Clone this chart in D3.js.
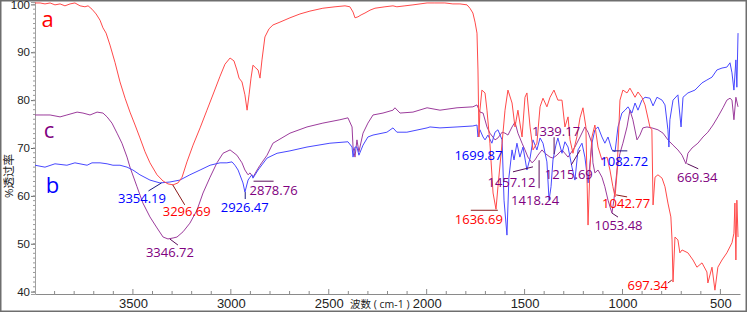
<!DOCTYPE html>
<html>
<head>
<meta charset="utf-8">
<script src="https://cdn.jsdelivr.net/npm/d3@7"></script>
<style>
body { margin: 0; background: #fff; }
svg { display: block; font-family: "Open Sans", "Noto Sans CJK SC", sans-serif; }
</style>
</head>
<body>
<svg id="chart" width="748" height="313"></svg>
<script>
// spectra: [wavenumber cm-1, %T]
const seriesA = [
  [4000,100.3],[3974,100.3],[3949,100.1],[3923,100.3],[3898,99.9],[3872,100.1],[3847,99.7],[3821,100.1],
  [3796,100.3],[3770,99.7],[3745,99.5],[3729,99.7],[3709,99.0],[3688,98.0],[3668,96.7],[3653,95.1],
  [3637,94.0],[3617,91.5],[3591,87.8],[3566,83.8],[3540,80.4],[3515,77.5],[3489,74.8],[3464,72.1],
  [3438,69.2],[3413,66.9],[3377,64.4],[3346,63.1],[3321,62.5],[3295,62.3],[3270,62.7],[3249,63.9],
  [3224,67.1],[3193,70.6],[3157,74.2],[3122,77.9],[3086,81.7],[3055,85.0],[3030,87.5],[3004,88.8],
  [2984,88.2],[2969,86.3],[2958,84.6],[2943,83.8],[2928,81.1],[2917,77.9],[2907,81.1],[2897,84.6],
  [2887,87.3],[2872,86.7],[2861,86.3],[2851,84.6],[2841,88.4],[2826,93.2],[2805,94.9],[2785,95.7],
  [2749,96.3],[2698,97.2],[2647,98.0],[2596,98.6],[2530,99.2],[2468,99.5],[2417,99.7],[2392,99.5],
  [2376,98.4],[2366,97.2],[2351,97.4],[2335,97.8],[2315,98.2],[2289,98.8],[2264,99.2],[2213,99.5],
  [2172,99.7],[2152,99.5],[2111,99.7],[2070,99.9],[2034,100.1],[1998,100.3],[1958,100.3],[1907,100.3],
  [1866,100.1],[1830,100.1],[1794,99.9],[1779,99.2],[1764,98.2],[1753,96.3],[1743,94.0],[1738,86.3],
  [1733,72.3],[1728,77.9],[1718,82.1],[1702,81.5],[1692,77.9],[1677,71.0],[1661,60.6],[1646,57.2],
  [1636,61.9],[1615,71.0],[1600,77.9],[1585,82.1],[1564,79.4],[1549,74.4],[1534,77.9],[1513,72.3],
  [1498,80.6],[1488,81.5],[1472,74.4],[1457,69.6],[1437,71.0],[1421,78.6],[1406,80.4],[1386,78.6],
  [1370,80.6],[1350,82.1],[1330,80.0],[1309,80.0],[1294,74.4],[1278,76.5],[1268,71.7],[1253,68.9],
  [1233,72.3],[1217,76.3],[1202,78.4],[1187,74.4],[1176,53.9],[1166,66.0],[1156,72.3],[1141,74.8],
  [1125,70.2],[1105,67.5],[1079,68.1],[1064,65.4],[1049,61.9],[1038,59.8],[1028,64.8],[1013,80.0],
  [998,82.1],[977,81.5],[962,82.5],[936,80.6],[921,81.7],[901,80.6],[885,79.0],[860,74.4],
  [850,73.8],[844,58.1],[834,63.9],[819,64.4],[798,63.7],[783,61.9],[768,58.5],[753,55.6],
  [747,50.8],[742,42.0],[732,51.4],[717,50.8],[707,48.1],[696,48.7],[666,48.1],[640,46.6],
  [620,45.1],[594,46.0],[569,44.1],[564,41.8],[543,45.1],[528,40.3],[513,45.1],[492,46.6],
  [467,48.1],[441,50.2],[431,52.2],[426,58.5],[421,46.6],[416,59.1],[410,51.4]
];

const seriesB = [
  [4000,66.4],[3949,66.0],[3898,66.7],[3837,66.4],[3796,66.9],[3734,66.4],[3709,66.9],[3668,66.9],
  [3632,66.7],[3602,66.4],[3566,66.4],[3530,66.0],[3500,65.4],[3464,64.4],[3413,63.3],[3362,62.7],
  [3311,62.9],[3260,63.3],[3209,64.4],[3157,65.4],[3106,66.4],[3055,66.9],[3020,66.9],[2994,67.1],
  [2979,66.4],[2963,65.4],[2938,62.7],[2928,60.8],[2912,63.3],[2902,63.9],[2892,64.4],[2887,63.7],
  [2861,65.4],[2815,67.9],[2764,68.9],[2698,69.4],[2611,70.2],[2494,71.0],[2402,71.3],[2381,70.2],
  [2376,68.1],[2366,70.2],[2356,70.2],[2346,68.5],[2325,70.6],[2300,72.3],[2274,72.7],[2203,73.3],
  [2172,74.2],[2152,73.3],[2101,73.3],[1998,74.2],[1983,74.4],[1932,74.2],[1845,74.4],[1764,74.6],
  [1743,74.8],[1738,72.3],[1728,73.8],[1712,72.3],[1702,71.7],[1687,72.7],[1667,71.0],[1651,73.3],
  [1636,73.8],[1615,71.7],[1605,59.1],[1590,51.8],[1580,63.9],[1564,69.6],[1554,67.5],[1539,71.0],
  [1524,68.1],[1508,70.2],[1488,65.4],[1472,67.9],[1457,71.7],[1437,69.6],[1421,72.1],[1406,71.0],
  [1386,67.1],[1375,59.1],[1365,61.9],[1355,67.5],[1340,70.6],[1330,72.1],[1309,68.9],[1294,71.3],
  [1278,70.2],[1258,66.0],[1243,63.3],[1227,69.6],[1207,71.0],[1192,68.1],[1176,62.7],[1156,71.0],
  [1141,73.8],[1125,74.4],[1105,72.3],[1090,71.0],[1074,72.3],[1054,69.6],[1038,69.2],[1023,74.4],
  [1003,77.3],[987,77.9],[972,78.6],[952,77.3],[936,79.4],[921,77.9],[901,80.0],[885,80.6],
  [860,80.4],[844,78.8],[824,80.6],[798,80.0],[783,79.0],[768,73.8],[763,70.2],[758,75.9],
  [742,80.0],[717,81.1],[701,74.4],[691,80.6],[666,81.5],[630,82.1],[594,83.6],[569,84.2],
  [543,84.8],[518,86.3],[492,86.7],[467,86.9],[451,87.8],[441,85.7],[431,82.1],[421,88.4],
  [416,82.7],[410,94.0]
];

const seriesC = [
  [4000,76.9],[3959,76.9],[3923,76.9],[3872,76.5],[3837,76.9],[3785,77.5],[3755,77.3],[3719,76.9],
  [3683,77.5],[3653,77.3],[3632,76.5],[3607,75.2],[3581,73.1],[3556,71.0],[3530,68.1],[3515,66.0],
  [3479,61.9],[3449,58.5],[3413,55.6],[3377,53.3],[3346,51.4],[3321,51.0],[3295,51.2],[3275,51.4],
  [3244,52.5],[3209,54.3],[3173,57.0],[3142,60.6],[3106,63.9],[3071,66.9],[3040,68.9],[3004,69.6],
  [2969,68.5],[2943,66.9],[2928,65.4],[2912,64.4],[2902,64.8],[2887,63.9],[2866,65.4],[2851,66.4],
  [2815,68.5],[2785,71.0],[2698,73.1],[2611,74.4],[2530,75.2],[2443,75.9],[2402,76.3],[2381,74.4],
  [2376,70.2],[2366,68.1],[2356,71.7],[2346,69.2],[2325,73.1],[2300,75.2],[2274,76.9],[2223,77.3],
  [2172,77.9],[2162,78.4],[2136,77.3],[2070,77.5],[1998,78.4],[1932,77.9],[1845,78.4],[1764,78.6],
  [1743,79.0],[1728,77.5],[1712,77.3],[1692,74.4],[1677,73.1],[1651,71.7],[1636,72.1],[1615,73.3],
  [1600,73.1],[1585,72.7],[1564,74.4],[1549,75.4],[1534,73.1],[1513,71.0],[1498,69.6],[1483,68.1],
  [1462,66.9],[1447,67.5],[1432,68.5],[1411,69.6],[1396,68.9],[1370,68.1],[1355,67.9],[1335,68.5],
  [1309,69.6],[1278,68.1],[1243,70.2],[1217,72.3],[1192,74.4],[1176,73.3],[1156,71.0],[1151,66.9],
  [1141,64.8],[1125,65.4],[1105,63.9],[1090,61.9],[1074,59.1],[1054,56.4],[1044,59.1],[1028,65.4],
  [1013,68.9],[998,71.0],[977,74.4],[962,77.9],[947,75.9],[926,71.7],[911,72.7],[896,74.2],
  [875,74.4],[850,74.2],[819,73.8],[793,73.1],[768,71.7],[742,70.6],[717,69.6],[696,68.5],
  [676,66.7],[666,68.9],[645,70.0],[615,71.0],[589,72.3],[564,73.3],[538,74.8],[513,76.5],
  [487,78.4],[467,80.0],[451,80.4],[441,80.0],[431,75.9],[421,80.6],[410,78.6]
];

const seriesNames = ["a", "b", "c"];
const xTickValues = [3500, 3000, 2500, 2000, 1500, 1000, 500];
const yTickValues = [40, 50, 60, 70, 80, 90, 100];

// peak labels: text, series, wavenumber, %T at leader tip
const peakText   = ["3354.19","3296.69","3346.72","2926.47","2878.76","1699.87","1636.69","1457.12",
                    "1418.24","1339.17","1215.69","1082.72","1042.77","1053.48","669.34","697.34"];
const peakSeries = ["b","a","c","b","c","b","a","c","c","c","c","b","a","c","c","a"];
const peakWn     = [3354.19,3296.69,3346.72,2926.47,2878.76,1699.87,1636.69,1457.12,
                    1418.24,1339.17,1215.69,1082.72,1042.77,1053.48,669.34,697.34];
const peakT      = [62.7,62.3,51.4,60.8,63.9,71.7,57.2,66.9,68.7,68.7,69.6,69.4,60.2,56.4,66.7,42.4];

// layout for the labels (pixel offsets from the peak point)
const peakLayout = [
  {lead: [[0,0],[-13,8]], tx: -19.5, ty: 16},
  {lead: [[0,0],[12,20]], tx: 14, ty: 27},
  {lead: [[7,2],[15,8]], tx: 7, ty: 15},
  {lead: [[0,0],[0,7]], tx: -0.5, ty: 15},
  {lead: [[-1,4],[19,4]], tx: 19, ty: 13},
  {lead: null, tx: -7, ty: 16},
  {lead: [[0,1],[-27,1]], tx: -19, ty: 10},
  {lead: [[0,4],[-20,9]], tx: -21.5, ty: 20},
  {lead: [[-1.5,6],[-1.5,34]], tx: -5.5, ty: 46},
  {lead: [[-2,0],[-2,-17]], tx: 0, ty: -23},
  {lead: [[0,0],[-9,15]], tx: -11.5, ty: 25},
  {lead: [[6,0],[21,0]], tx: 18, ty: 11},
  {lead: [[2,0],[13,2]], tx: 12, ty: 9},
  {lead: [[0,0],[6,4]], tx: 6.5, ty: 12},
  {lead: [[0,0],[11,5]], tx: 10, ty: 14},
  {lead: [[-10,0],[-14,3]], tx: -34, ty: 5}
];

const lineColor  = {a: "#ff4a4a", b: "#4848ff", c: "#9c3c9c"};
const textColor  = {a: "#ff0000", b: "#0000ff", c: "#800080"};
const leadColor  = {a: "#8b1a1a", b: "#1a1a80", c: "#5a105a"};

const svg = d3.select("#chart");
const width = +svg.attr("width");
const height = +svg.attr("height");
const margin = {left: 35, right: 8, top: 2, bottom: 19};

const x = d3.scaleLinear().domain([4000, 400]).range([margin.left, width - margin.right]);
const y = d3.scaleLinear().domain([39.5, 100.5]).range([height - margin.bottom, margin.top]);

// outer frame
svg.append("rect")
  .attr("x", 0.75).attr("y", 0.75)
  .attr("width", width - 2.5).attr("height", height - 2.5)
  .attr("fill", "none").attr("stroke", "#6e6e6e").attr("stroke-width", 1.5);

svg.append("clipPath").attr("id", "plot")
  .append("rect")
  .attr("x", margin.left).attr("y", margin.top)
  .attr("width", x.range()[1] - margin.left).attr("height", y.range()[0] - margin.top);

// x axis
const xAxis = d3.axisBottom(x).tickValues(xTickValues).tickSize(0).tickPadding(5).tickFormat(d3.format("d"));
const gx = svg.append("g")
  .attr("transform", `translate(0,${y.range()[0]})`)
  .call(xAxis);
gx.select(".domain").attr("stroke", "#8a8a8a");
gx.selectAll("text").style("font-size", "13px").attr("fill", "#222");

svg.append("g").selectAll("line")
  .data(d3.range(3900, 400, -100))
  .join("line")
  .attr("x1", d => x(d)).attr("x2", d => x(d))
  .attr("y1", y.range()[0]).attr("y2", d => y.range()[0] - (d % 500 === 0 ? 5 : 3))
  .attr("stroke", "#8a8a8a");

// y axis
const yAxis = d3.axisLeft(y).tickValues(yTickValues).tickSize(4).tickPadding(1);
const gy = svg.append("g")
  .attr("transform", `translate(${margin.left},0)`)
  .call(yAxis);
gy.select(".domain").attr("stroke", "#a0a0a0");
gy.selectAll(".tick line").attr("stroke", "#666");
gy.selectAll("text").style("font-size", "11.5px").attr("fill", "#222");

svg.append("g").selectAll("line")
  .data(d3.range(40, 101, 1))
  .join("line")
  .attr("x1", margin.left - 2).attr("x2", margin.left)
  .attr("y1", d => y(d)).attr("y2", d => y(d))
  .attr("stroke", "#999");

// axis titles
svg.append("text")
  .attr("x", 350).attr("y", 308)
  .style("font-size", "10.5px").attr("fill", "#222")
  .text("波数 ( cm-1 )");

svg.append("text")
  .attr("transform", "translate(13,176) rotate(-90)")
  .attr("text-anchor", "middle")
  .style("font-size", "11.5px").attr("fill", "#222")
  .text("%透过率");

// spectra
const line = d3.line().x(d => x(d[0])).y(d => y(d[1]));
const spectra = {a: seriesA, b: seriesB, c: seriesC};
svg.append("g").attr("clip-path", "url(#plot)")
  .selectAll("path")
  .data(["c", "b", "a"])
  .join("path")
  .attr("d", k => line(spectra[k]))
  .attr("fill", "none")
  .attr("stroke", k => lineColor[k])
  .attr("stroke-width", 1)
  .attr("stroke-linejoin", "round");

// series letters
const letterPos = {a: [3936, 95.3], b: [3911, 60.6], c: [3928, 72.1]};
svg.selectAll(".series-name")
  .data(seriesNames)
  .join("text")
  .attr("class", "series-name")
  .attr("x", d => x(letterPos[d][0]))
  .attr("y", d => y(letterPos[d][1]))
  .attr("text-anchor", "middle")
  .style("font-size", "22px")
  .attr("fill", d => textColor[d])
  .text(d => d);

// peak labels
const peaks = peakText.map((t, i) => ({
  text: t, s: peakSeries[i], px: x(peakWn[i]), py: y(peakT[i]), lay: peakLayout[i]
}));

svg.append("g").selectAll("polyline")
  .data(peaks.filter(p => p.lay.lead))
  .join("polyline")
  .attr("points", p => p.lay.lead.map(o => [p.px + o[0], p.py + o[1]].join(",")).join(" "))
  .attr("fill", "none")
  .attr("stroke", p => leadColor[p.s])
  .attr("stroke-width", 1);

svg.append("g").selectAll("text")
  .data(peaks)
  .join("text")
  .attr("x", p => p.px + p.lay.tx)
  .attr("y", p => p.py + p.lay.ty)
  .attr("dy", "0.35em")
  .attr("text-anchor", "middle")
  .style("font-size", "13px")
  .attr("fill", p => textColor[p.s])
  .text(p => p.text);
</script>
</body>
</html>
